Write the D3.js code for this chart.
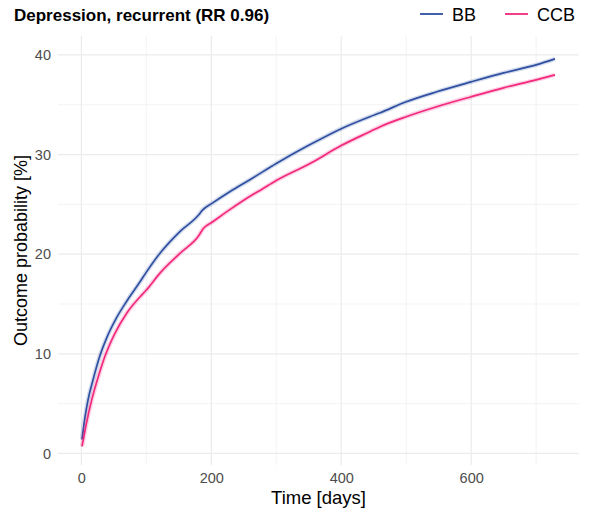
<!DOCTYPE html>
<html>
<head>
<meta charset="utf-8">
<script src="https://cdn.jsdelivr.net/npm/d3@7"></script>
<style>
  body { margin: 0; background: #fff; }
  text { font-family: "Liberation Sans", Arial, Helvetica, sans-serif; }
</style>
</head>
<body>
<svg id="chart" width="596" height="517"></svg>
<script>
// values (day, outcome probability %)
const bbDays = [1, 5, 10, 18, 28, 39, 54, 70, 90, 100, 121, 152, 180, 186, 201, 229, 260, 300, 352, 400, 444, 460, 500, 547, 600, 650, 700, 729];
const bbVals = [1.4, 3.4, 5.3, 7.4, 9.7, 11.6, 13.6, 15.3, 17.2, 18.2, 20.1, 22.3, 23.9, 24.4, 25.1, 26.3, 27.5, 29.1, 31.0, 32.6, 33.8, 34.2, 35.3, 36.3, 37.3, 38.2, 39.0, 39.6];
const ccbDays = [1, 8, 16, 26, 36, 52, 70, 90, 100, 121, 152, 180, 188, 201, 229, 259, 275, 300, 352, 400, 444, 460, 500, 547, 600, 650, 700, 729];
const ccbVals = [0.7, 3.1, 5.4, 7.7, 9.7, 12.1, 14.1, 15.7, 16.4, 18.1, 20.1, 21.8, 22.6, 23.2, 24.5, 25.8, 26.4, 27.4, 29.1, 30.9, 32.3, 32.8, 33.8, 34.8, 35.8, 36.7, 37.5, 38.0];

const seriesNames = ["BB", "CCB"];
const xTicks = [0, 200, 400, 600];
const xMinor = [100, 300, 500, 700];
const yTicks = [0, 10, 20, 30, 40];
const yMinor = [5, 15, 25, 35];

const colors = { BB: "#2f4fa2", CCB: "#f2297c" };

const svg = d3.select("#chart");
const panel = { left: 58, right: 579, top: 36, bottom: 465 };

const x = d3.scaleLinear().domain([-36, 766]).range([panel.left, panel.right]);
const y = d3.scaleLinear().domain([-1.16, 41.9]).range([panel.bottom, panel.top]);

// grid
const grid = svg.append("g");
grid.selectAll(".xminor").data(xMinor).enter().append("line")
  .attr("x1", d => x(d)).attr("x2", d => x(d))
  .attr("y1", panel.top).attr("y2", panel.bottom)
  .attr("stroke", "#ebebeb").attr("stroke-width", 0.6);
grid.selectAll(".yminor").data(yMinor).enter().append("line")
  .attr("x1", panel.left).attr("x2", panel.right)
  .attr("y1", d => y(d)).attr("y2", d => y(d))
  .attr("stroke", "#ebebeb").attr("stroke-width", 0.6);
grid.selectAll(".xmajor").data(xTicks).enter().append("line")
  .attr("x1", d => x(d)).attr("x2", d => x(d))
  .attr("y1", panel.top).attr("y2", panel.bottom)
  .attr("stroke", "#ebebeb").attr("stroke-width", 1.2);
grid.selectAll(".ymajor").data(yTicks).enter().append("line")
  .attr("x1", panel.left).attr("x2", panel.right)
  .attr("y1", d => y(d)).attr("y2", d => y(d))
  .attr("stroke", "#ebebeb").attr("stroke-width", 1.2);

// axes (labels only, like theme_minimal)
const xAxis = svg.append("g")
  .attr("transform", "translate(0," + panel.bottom + ")")
  .call(d3.axisBottom(x).tickValues(xTicks).tickSize(0).tickPadding(8));
const yAxis = svg.append("g")
  .attr("transform", "translate(" + panel.left + ",0)")
  .call(d3.axisLeft(y).tickValues(yTicks).tickSize(0).tickPadding(7));
[xAxis, yAxis].forEach(a => {
  a.select(".domain").remove();
  a.selectAll("text").attr("fill", "#4d4d4d").style("font-size", "14.5px")
    .style("font-family", "'Liberation Sans', Arial, sans-serif");
});

// lines
const series = [
  { name: "BB", pts: bbDays.map((d, i) => [d, bbVals[i]]) },
  { name: "CCB", pts: ccbDays.map((d, i) => [d, ccbVals[i]]) }
];
const line = d3.line().x(d => x(d[0])).y(d => y(d[1])).curve(d3.curveMonotoneX);

series.forEach(s => {
  svg.append("path").datum(s.pts)
    .attr("d", line).attr("fill", "none")
    .attr("stroke", colors[s.name]).attr("stroke-opacity", 0.2)
    .attr("stroke-width", 4.5);
  svg.append("path").datum(s.pts)
    .attr("d", line).attr("fill", "none")
    .attr("stroke", colors[s.name]).attr("stroke-width", 1.7);
});

// titles
svg.append("text").attr("x", 14).attr("y", 21)
  .attr("font-weight", "bold").attr("font-size", 17).attr("fill", "#000")
  .text("Depression, recurrent (RR 0.96)");

svg.append("text").attr("x", (panel.left + panel.right) / 2).attr("y", 504)
  .attr("text-anchor", "middle").attr("font-size", 18.5).attr("fill", "#000")
  .text("Time [days]");

svg.append("text")
  .attr("transform", "translate(27," + (panel.top + panel.bottom) / 2 + ") rotate(-90)")
  .attr("text-anchor", "middle").attr("font-size", 18).attr("fill", "#000")
  .text("Outcome probability [%]");

// legend
const legendX = { BB: 420, CCB: 505 };
seriesNames.forEach(n => {
  const g = svg.append("g").attr("transform", "translate(" + legendX[n] + ",14)");
  g.append("line").attr("x1", 0).attr("x2", 23).attr("y1", 0).attr("y2", 0)
    .attr("stroke", colors[n]).attr("stroke-width", 1.8);
  g.append("text").attr("x", 32).attr("y", 6.5)
    .attr("font-size", 18).attr("fill", "#000").text(n);
});
</script>
</body>
</html>
